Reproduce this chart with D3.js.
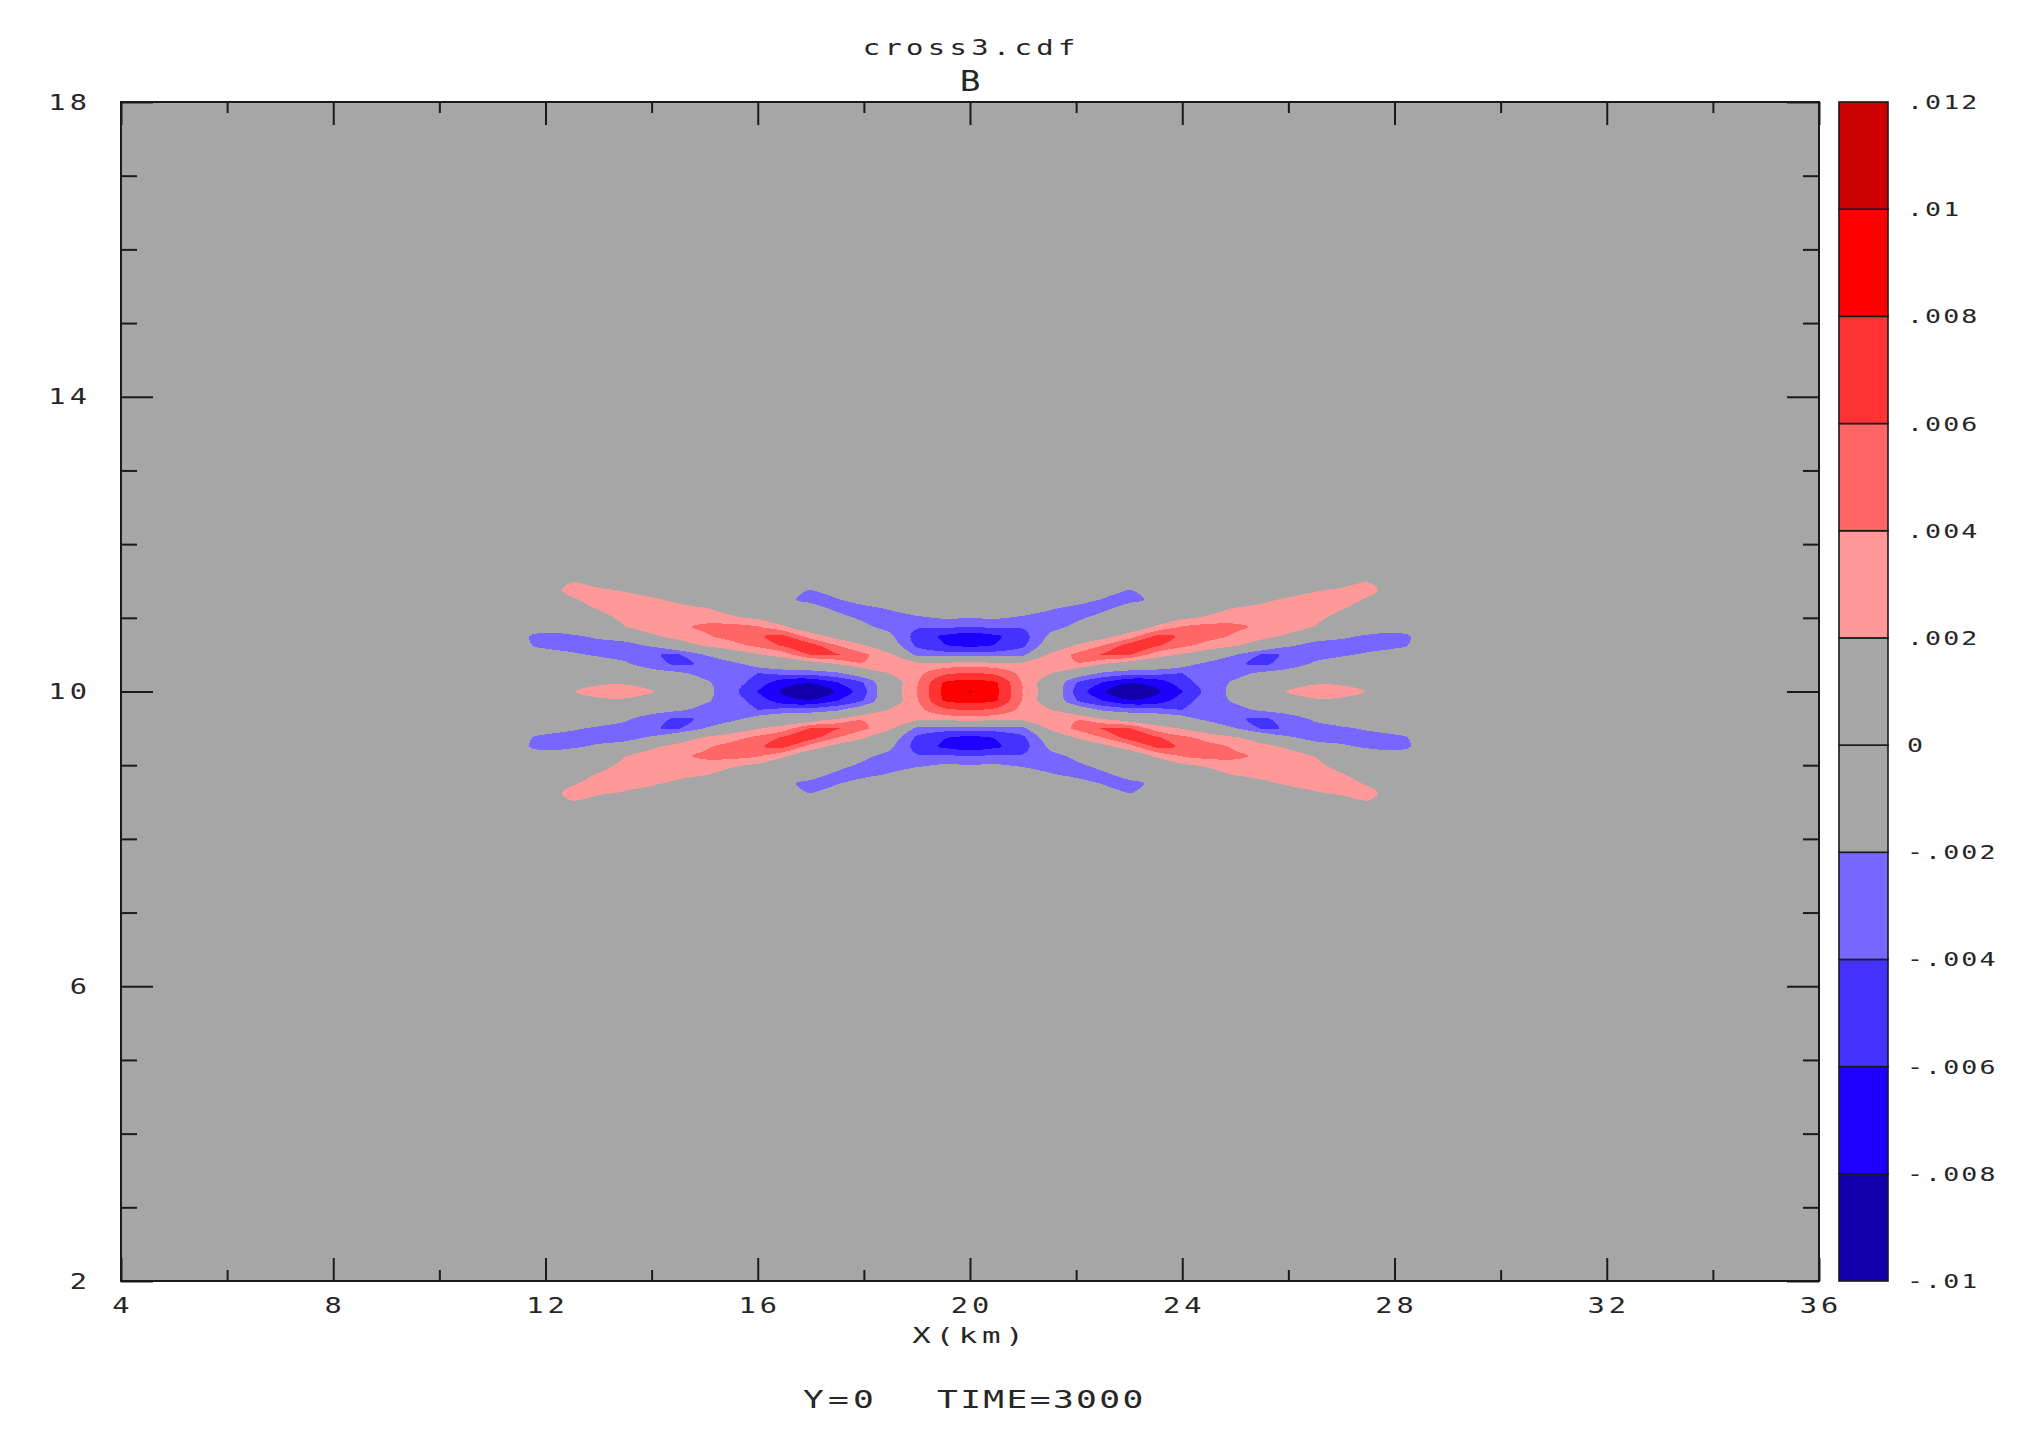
<!DOCTYPE html>
<html>
<head>
<meta charset="utf-8">
<script src="https://cdn.jsdelivr.net/npm/d3@7"></script>
<style>
  html, body { margin: 0; padding: 0; background: #ffffff; }
  svg { display: block; }
</style>
</head>
<body>
<svg id="chart" width="2044" height="1432"></svg>
<script>
// ---------------- data ----------------
const titleText = "cross3.cdf";
const variableName = "B";
const xAxisTitle = "X(km)";
const footerLeft = "Y=0";
const footerRight = "TIME=3000";

const xDomain = [4, 36];
const yDomain = [2, 18];
const xMajorTicks = [4, 8, 12, 16, 20, 24, 28, 32, 36];
const xMinorTicks = [6, 10, 14, 18, 22, 26, 30, 34];
const yMajorTicks = [2, 6, 10, 14, 18];
const yMinorTicks = [3, 4, 5, 7, 8, 9, 11, 12, 13, 15, 16, 17];

// contour levels (units of 1e-3) and their colour-bar labels
const levels = [-10, -8, -6, -4, -2, 0, 2, 4, 6, 8, 10, 12];
const levelLabels = ["-.01", "-.008", "-.006", "-.004", "-.002", "0", ".002", ".004", ".006", ".008", ".01", ".012"];
const bandColors = ["#1400aa", "#1e00ff", "#4433ff", "#7766ff", "#a6a6a6", "#a6a6a6",
                    "#ff9999", "#ff6666", "#ff3333", "#ff0000", "#cc0000"];

// grid of B (units of 1e-3): columns = gridX (km), rows = gridY (km)
const gridX = [11, 11.5, 12, 12.5, 13, 13.5, 14, 14.5, 15, 15.5, 16, 16.5, 17, 17.5, 18, 18.5, 19, 19.5,
               20, 20.5, 21, 21.5, 22, 22.5, 23, 23.5, 24, 24.5, 25, 25.5, 26, 26.5, 27, 27.5, 28, 28.5, 29];
const gridY = [8.375, 8.5, 8.625, 8.75, 8.875, 9, 9.125, 9.25, 9.375, 9.5, 9.625, 9.75, 9.875,
               10, 10.125, 10.25, 10.375, 10.5, 10.625, 10.75, 10.875, 11, 11.125, 11.25, 11.375, 11.5, 11.625];
const bGrid = [
 [0,0,0,0,0,0,0,0,0,0,0,0,0,0,0,0,0,0, 0, 0,0,0,0,0,0,0,0,0,0,0,0,0,0,0,0,0,0],
 [0,0.3,1.3,1.9,0.8,0.2,0,0,0,0,0,0,0,0,0,0,0,0, 0, 0,0,0,0,0,0,0,0,0,0,0,0,0.2,0.8,1.9,1.3,0.3,0],
 [0,0.2,1.2,2.5,2.4,1.8,1.0,0,0,0,0,-1.3,-2.1,-1.0,0,0,0,0, 0, 0,0,0,0,-1.0,-2.1,-1.3,0,0,0,0,1.0,1.8,2.4,2.5,1.2,0.2,0],
 [0,0,0.6,1.8,2.7,2.8,2.3,1.5,0,0,-0.3,-1.7,-2.4,-2.1,-1.0,-0.4,0,0, 0, 0,0,-0.4,-1.0,-2.1,-2.4,-1.7,-0.3,0,0,1.5,2.3,2.8,2.7,1.8,0.6,0,0],
 [0,0,0,0.6,2.2,3.0,3.2,2.6,2.2,1.0,0,-0.5,-1.4,-2.3,-2.6,-1.8,-0.9,-0.5, -0.6, -0.5,-0.9,-1.8,-2.6,-2.3,-1.4,-0.5,0,1.0,2.2,2.6,3.2,3.0,2.2,0.6,0,0,0],
 [0,0,0,0,0.8,2.8,3.5,3.6,3.3,2.4,1.6,0.2,-0.6,-1.5,-2.3,-2.8,-2.3,-1.8, -1.9, -1.8,-2.3,-2.8,-2.3,-1.5,-0.6,0.2,1.6,2.4,3.3,3.6,3.5,2.8,0.8,0,0,0,0],
 [0,-0.6,-1.0,-0.6,-0.3,1.9,3.0,3.6,4.4,4.8,4.2,2.3,0.3,-0.5,-1.6,-2.6,-3.8,-3.7, -4.1, -3.7,-3.8,-2.6,-1.6,-0.5,0.3,2.3,4.2,4.8,4.4,3.6,3.0,1.9,-0.3,-0.6,-1.0,-0.6,0],
 [0,-1.6,-2.6,-2.3,-1.6,-1.0,1.6,2.8,3.7,4.8,5.9,6.3,3.0,1.2,-0.3,-1.6,-4.8,-6.3, -7.2, -6.3,-4.8,-1.6,-0.3,1.2,3.0,6.3,5.9,4.8,3.7,2.8,1.6,-1.0,-1.6,-2.3,-2.6,-1.6,0],
 [0,-1.5,-2.5,-2.8,-2.9,-2.7,-1.7,0.5,2.3,3.2,4.5,6.4,6.9,4.0,2.2,-0.5,-4.4,-5.9, -6.4, -5.9,-4.4,-0.5,2.2,4.0,6.9,6.4,4.5,3.2,2.3,0.5,-1.7,-2.7,-2.9,-2.8,-2.5,-1.5,0],
 [0,-0.5,-1.0,-1.7,-2.3,-3.0,-3.9,-4.2,-1.9,0.5,1.8,3.0,6.1,6.2,4.4,2.4,-2.6,-3.0, -3.2, -3.0,-2.6,2.4,4.4,6.2,6.1,3.0,1.8,0.5,-1.9,-4.2,-3.9,-3.0,-2.3,-1.7,-1.0,-0.5,0],
 [0,0,0,-0.3,-0.9,-1.6,-3.4,-4.3,-3.8,-2.8,-0.8,0,0.5,2.1,3.9,3.3,2.8,2.8, 3.0, 2.8,2.8,3.3,3.9,2.1,0.5,0,-0.8,-2.8,-3.8,-4.3,-3.4,-1.6,-0.9,-0.3,0,0,0],
 [0,0,0,0,0,-0.4,-0.8,-1.7,-2.6,-2.7,-4.0,-3.2,-3.0,-2.3,0,2.2,3.4,5.4, 6.0, 5.4,3.4,2.2,0,-2.3,-3.0,-3.2,-4.0,-2.7,-2.6,-1.7,-0.8,-0.4,0,0,0,0,0],
 [0,0,0.4,1.1,1.6,1.7,0.9,-0.8,-1.7,-3.0,-4.8,-7.4,-7.9,-6.0,-3.9,0.5,3.8,8.1, 8.8, 8.1,3.8,0.5,-3.9,-6.0,-7.9,-7.4,-4.8,-3.0,-1.7,-0.8,0.9,1.7,1.6,1.1,0.4,0,0],
 [0,0.2,1.0,1.9,2.8,2.9,2.2,0.5,-1.3,-3.2,-6.1,-8.4,-8.8,-7.9,-4.6,0.6,3.9,8.4, 10.2, 8.4,3.9,0.6,-4.6,-7.9,-8.8,-8.4,-6.1,-3.2,-1.3,0.5,2.2,2.9,2.8,1.9,1.0,0.2,0],
 [0,0,0.4,1.1,1.6,1.7,0.9,-0.8,-1.7,-3.0,-4.8,-7.4,-7.9,-6.0,-3.9,0.5,3.8,8.1, 8.8, 8.1,3.8,0.5,-3.9,-6.0,-7.9,-7.4,-4.8,-3.0,-1.7,-0.8,0.9,1.7,1.6,1.1,0.4,0,0],
 [0,0,0,0,0,-0.4,-0.8,-1.7,-2.6,-2.7,-4.0,-3.2,-3.0,-2.3,0,2.2,3.4,5.4, 6.0, 5.4,3.4,2.2,0,-2.3,-3.0,-3.2,-4.0,-2.7,-2.6,-1.7,-0.8,-0.4,0,0,0,0,0],
 [0,0,0,-0.3,-0.9,-1.6,-3.4,-4.3,-3.8,-2.8,-0.8,0,0.5,2.1,3.9,3.3,2.8,2.8, 3.0, 2.8,2.8,3.3,3.9,2.1,0.5,0,-0.8,-2.8,-3.8,-4.3,-3.4,-1.6,-0.9,-0.3,0,0,0],
 [0,-0.5,-1.0,-1.7,-2.3,-3.0,-3.9,-4.2,-1.9,0.5,1.8,3.0,6.1,6.2,4.4,2.4,-2.6,-3.0, -3.2, -3.0,-2.6,2.4,4.4,6.2,6.1,3.0,1.8,0.5,-1.9,-4.2,-3.9,-3.0,-2.3,-1.7,-1.0,-0.5,0],
 [0,-1.5,-2.5,-2.8,-2.9,-2.7,-1.7,0.5,2.3,3.2,4.5,6.4,6.9,4.0,2.2,-0.5,-4.4,-5.9, -6.4, -5.9,-4.4,-0.5,2.2,4.0,6.9,6.4,4.5,3.2,2.3,0.5,-1.7,-2.7,-2.9,-2.8,-2.5,-1.5,0],
 [0,-1.6,-2.6,-2.3,-1.6,-1.0,1.6,2.8,3.7,4.8,5.9,6.3,3.0,1.2,-0.3,-1.6,-4.8,-6.3, -7.2, -6.3,-4.8,-1.6,-0.3,1.2,3.0,6.3,5.9,4.8,3.7,2.8,1.6,-1.0,-1.6,-2.3,-2.6,-1.6,0],
 [0,-0.6,-1.0,-0.6,-0.3,1.9,3.0,3.6,4.4,4.8,4.2,2.3,0.3,-0.5,-1.6,-2.6,-3.8,-3.7, -4.1, -3.7,-3.8,-2.6,-1.6,-0.5,0.3,2.3,4.2,4.8,4.4,3.6,3.0,1.9,-0.3,-0.6,-1.0,-0.6,0],
 [0,0,0,0,0.8,2.8,3.5,3.6,3.3,2.4,1.6,0.2,-0.6,-1.5,-2.3,-2.8,-2.3,-1.8, -1.9, -1.8,-2.3,-2.8,-2.3,-1.5,-0.6,0.2,1.6,2.4,3.3,3.6,3.5,2.8,0.8,0,0,0,0],
 [0,0,0,0.6,2.2,3.0,3.2,2.6,2.2,1.0,0,-0.5,-1.4,-2.3,-2.6,-1.8,-0.9,-0.5, -0.6, -0.5,-0.9,-1.8,-2.6,-2.3,-1.4,-0.5,0,1.0,2.2,2.6,3.2,3.0,2.2,0.6,0,0,0],
 [0,0,0.6,1.8,2.7,2.8,2.3,1.5,0,0,-0.3,-1.7,-2.4,-2.1,-1.0,-0.4,0,0, 0, 0,0,-0.4,-1.0,-2.1,-2.4,-1.7,-0.3,0,0,1.5,2.3,2.8,2.7,1.8,0.6,0,0],
 [0,0.2,1.2,2.5,2.4,1.8,1.0,0,0,0,0,-1.3,-2.1,-1.0,0,0,0,0, 0, 0,0,0,0,-1.0,-2.1,-1.3,0,0,0,0,1.0,1.8,2.4,2.5,1.2,0.2,0],
 [0,0.3,1.3,1.9,0.8,0.2,0,0,0,0,0,0,0,0,0,0,0,0, 0, 0,0,0,0,0,0,0,0,0,0,0,0,0.2,0.8,1.9,1.3,0.3,0],
 [0,0,0,0,0,0,0,0,0,0,0,0,0,0,0,0,0,0, 0, 0,0,0,0,0,0,0,0,0,0,0,0,0,0,0,0,0,0]
];

// ---------------- layout ----------------
const FONT = "'DejaVu Sans Mono', 'Liberation Mono', monospace";
const INK = "#1a1a1a";
const TEXT_INK = "#262626";
const plot = { left: 121, right: 1819, top: 102, bottom: 1281 };
const cb = { left: 1839, right: 1888 };

const svg = d3.select("#chart");
const xScale = d3.scaleLinear().domain(xDomain).range([plot.left, plot.right]);
const yScale = d3.scaleLinear().domain(yDomain).range([plot.bottom, plot.top]);

// wide, evenly spaced lettering like the plotting package's stroke font
function drawText(parent, str, x, y, size, opts = {}) {
  const sx = opts.sx ?? 1.4, ls = opts.ls ?? 3, anchor = opts.anchor ?? "start";
  const t = parent.append("text")
    .attr("transform", `translate(${x},${y}) scale(${sx},1)`)
    .attr("text-anchor", anchor)
    .attr("fill", TEXT_INK)
    .style("font-family", FONT).style("font-size", size + "px").style("letter-spacing", ls + "px")
    .text(str);
  if (anchor === "middle") t.attr("dx", ls / 2);
  if (anchor === "end") t.attr("dx", ls);
  return t;
}

// background of the plot (value band around zero)
svg.append("rect")
  .attr("x", plot.left).attr("y", plot.top)
  .attr("width", plot.right - plot.left).attr("height", plot.bottom - plot.top)
  .attr("fill", bandColors[5]);

// ---------------- filled contours ----------------
const nx = gridX.length, ny = gridY.length;
const stepX = gridX[1] - gridX[0], stepY = gridY[1] - gridY[0];
const flat = bGrid.flat();
const ringLine = d3.line().curve(d3.curveCatmullRomClosed.alpha(0.5));
function toScreen([gx, gy]) {
  return [xScale(gridX[0] + (gx - 0.5) * stepX), yScale(gridY[0] + (gy - 0.5) * stepY)];
}
function contourPath(c) {
  return c.coordinates.map(poly => poly.map(ring => ringLine(ring.slice(0, -1).map(toScreen))).join("")).join("");
}

const posLevels = levels.filter(l => l > 0 && l < 12);     // 2,4,6,8,10
const negLevels = levels.filter(l => l < 0).reverse();      // -2,-4,-6,-8,-10
const posContours = d3.contours().size([nx, ny]).thresholds(posLevels)(flat);
const negContours = d3.contours().size([nx, ny]).thresholds(negLevels.map(l => -l))(flat.map(v => -v));

const clip = svg.append("clipPath").attr("id", "plotClip");
clip.append("rect").attr("x", plot.left).attr("y", plot.top)
  .attr("width", plot.right - plot.left).attr("height", plot.bottom - plot.top);
const gFill = svg.append("g").attr("clip-path", "url(#plotClip)");

gFill.selectAll("path.pos").data(posContours).join("path")
  .attr("class", "pos")
  .attr("d", contourPath)
  .attr("fill", d => bandColors[levels.indexOf(d.value)])
  .attr("fill-rule", "evenodd")
  .attr("shape-rendering", "crispEdges");

gFill.selectAll("path.neg").data(negContours).join("path")
  .attr("class", "neg")
  .attr("d", contourPath)
  .attr("fill", d => bandColors[levels.indexOf(-d.value) - 1])
  .attr("fill-rule", "evenodd")
  .attr("shape-rendering", "crispEdges");

// ---------------- axes (ticks point into the plot) ----------------
function styleAxis(g) {
  g.select(".domain").remove();
  g.selectAll(".tick line").attr("stroke", INK).attr("stroke-width", 2);
  g.selectAll(".tick text").remove();
}
const axisSpecs = [
  [d3.axisBottom, plot.bottom, xScale, xMajorTicks, -23, true],
  [d3.axisBottom, plot.bottom, xScale, xMinorTicks, -11, true],
  [d3.axisTop, plot.top, xScale, xMajorTicks, -23, true],
  [d3.axisTop, plot.top, xScale, xMinorTicks, -11, true],
  [d3.axisLeft, plot.left, yScale, yMajorTicks, -32, false],
  [d3.axisLeft, plot.left, yScale, yMinorTicks, -16, false],
  [d3.axisRight, plot.right, yScale, yMajorTicks, -32, false],
  [d3.axisRight, plot.right, yScale, yMinorTicks, -16, false]
];
axisSpecs.forEach(([axisFn, pos, scale, ticks, size, horizontal]) => {
  svg.append("g")
    .attr("transform", horizontal ? `translate(0,${pos})` : `translate(${pos},0)`)
    .call(axisFn(scale).tickValues(ticks).tickSize(size).tickSizeOuter(0))
    .call(styleAxis);
});

// tick labels
const gLabels = svg.append("g");
xMajorTicks.forEach(v => drawText(gLabels, String(v), xScale(v), 1313, 20.5, { anchor: "middle", ls: 3 }));
yMajorTicks.forEach(v => drawText(gLabels, String(v), 87, yScale(v) + 7.5, 20.5, { anchor: "end", ls: 3 }));

// frame
svg.append("rect")
  .attr("x", plot.left).attr("y", plot.top)
  .attr("width", plot.right - plot.left).attr("height", plot.bottom - plot.top)
  .attr("fill", "none").attr("stroke", INK).attr("stroke-width", 2);

// ---------------- colour bar ----------------
const cbScale = d3.scaleLinear().domain([levels[0], levels[levels.length - 1]]).range([plot.bottom, plot.top]);
const bands = d3.range(levels.length - 1);
svg.append("g").selectAll("rect").data(bands).join("rect")
  .attr("x", cb.left)
  .attr("y", i => cbScale(levels[i + 1]))
  .attr("width", cb.right - cb.left)
  .attr("height", i => cbScale(levels[i]) - cbScale(levels[i + 1]))
  .attr("fill", i => bandColors[i])
  .attr("stroke", INK).attr("stroke-width", 1.6);

const gCbLabels = svg.append("g");
levels.forEach((l, i) => drawText(gCbLabels, levelLabels[i], 1907, cbScale(l) + 7, 19, { ls: 1.5 }));

// ---------------- titles ----------------
drawText(svg, titleText, 969, 55, 20.6, { anchor: "middle", ls: 3.1 });
drawText(svg, variableName, 970, 91, 27.5, { anchor: "middle", sx: 1.25, ls: 0 });
drawText(svg, xAxisTitle, 968, 1343, 22, { anchor: "middle", ls: 3.4 });
drawText(svg, footerLeft, 803, 1408, 24.7, { ls: 3 });
drawText(svg, footerRight, 937, 1408, 24.7, { ls: 1.7 });
</script>
</body>
</html>
